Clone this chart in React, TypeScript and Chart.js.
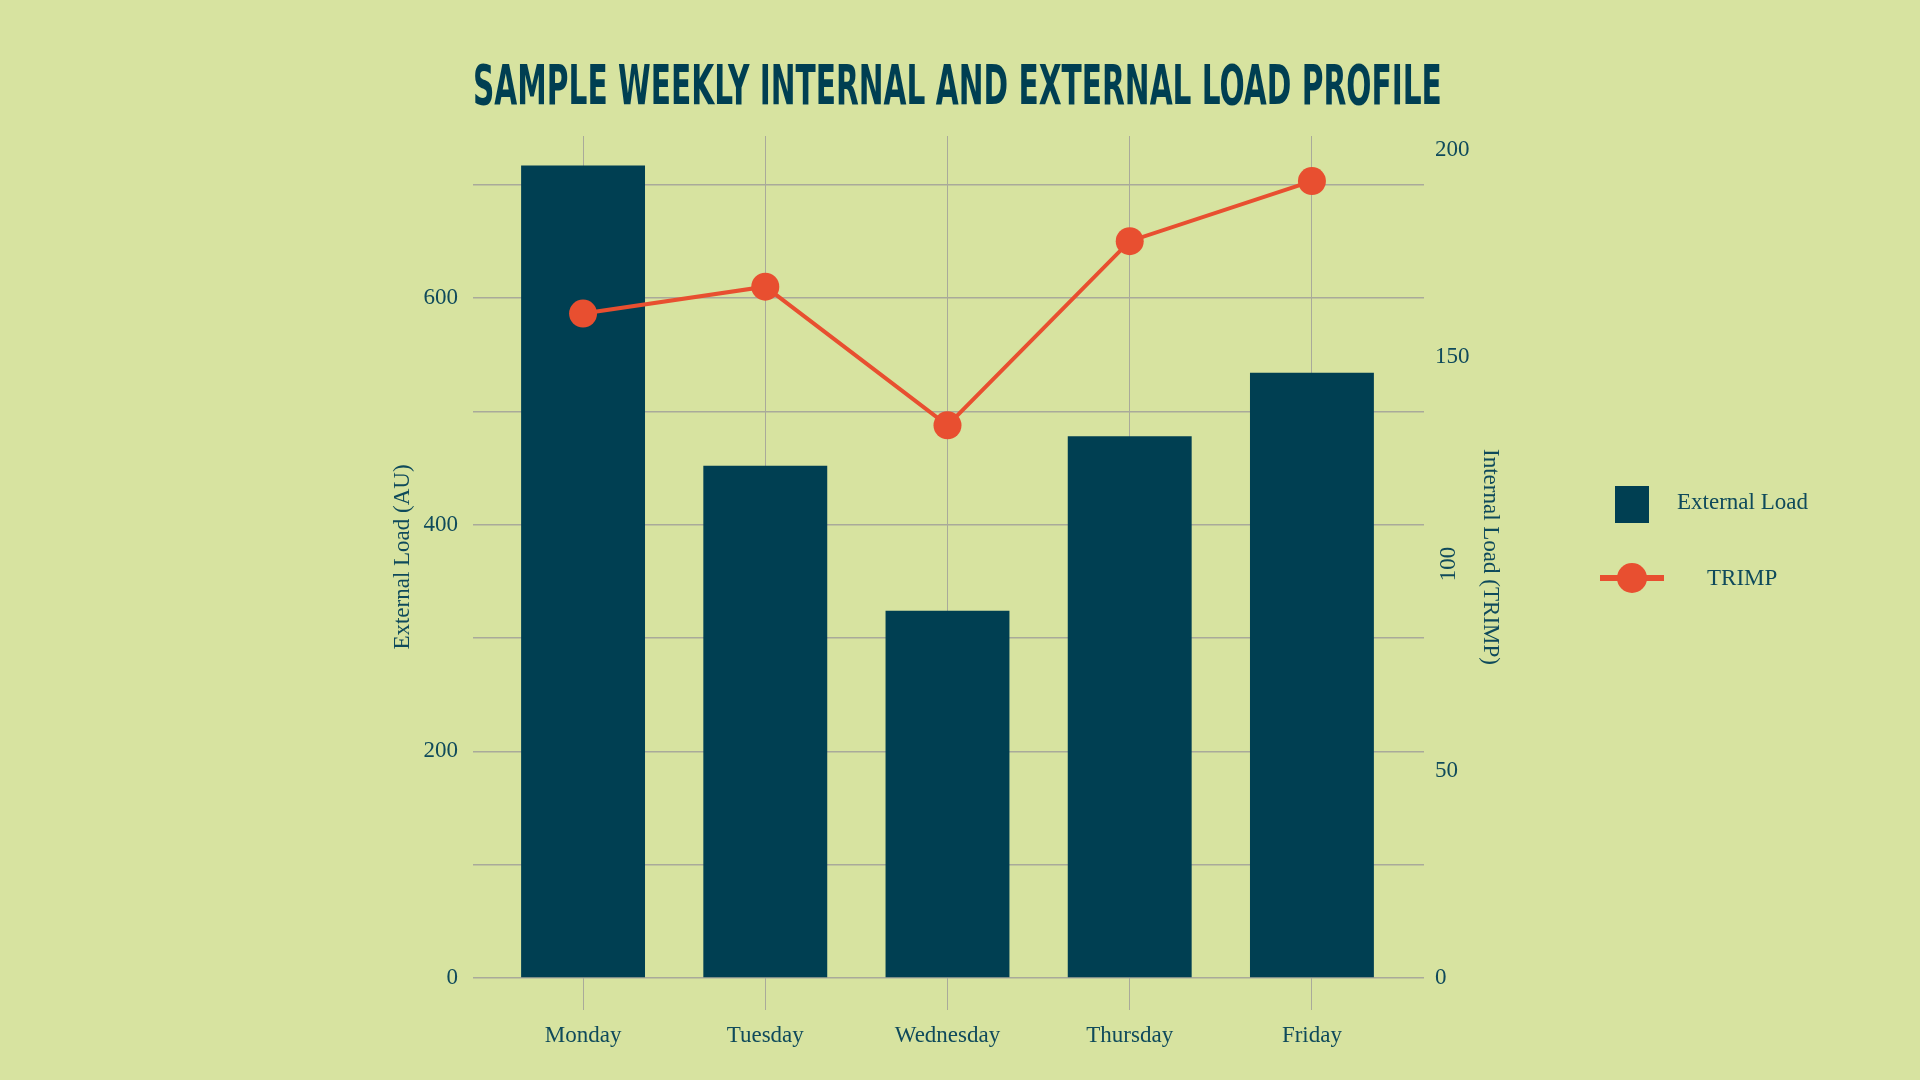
import React, { useEffect, useLayoutEffect, useRef, useState } from 'react';
import { Chart, registerables } from 'chart.js';

Chart.register(...registerables);

// data
const days = ['Monday', 'Tuesday', 'Wednesday', 'Thursday', 'Friday'];
const externalLoad = [717, 452, 324, 478, 534];
const trimp = [160.5, 167, 133.5, 178, 192.5];
const externalGrid = [0, 100, 200, 300, 400, 500, 600, 700];
const externalLabelled = [0, 200, 400, 600];
const trimpTicks = [0, 50, 100, 150, 200];
const trimpRotated = [100]; // drawn sideways in the source picture

const BG = '#D7E3A0';
const BAR = '#003F52';
const LINE = '#E84F30';
const GRID = '#A9AA9A';
const TEXT = '#0F4A5B';
const SERIF = '"Liberation Serif", "Times New Roman", serif';
const TITLE = 'SAMPLE WEEKLY INTERNAL AND EXTERNAL LOAD PROFILE';

const rotatedTicks = {
  id: 'rotatedTicks',
  afterDraw(chart: Chart) {
    const scale = chart.scales.y1;
    const { ctx } = chart;
    ctx.save();
    ctx.fillStyle = TEXT;
    ctx.font = `23px ${SERIF}`;
    ctx.textAlign = 'center';
    ctx.textBaseline = 'middle';
    trimpRotated.forEach((v) => {
      ctx.save();
      ctx.translate(scale.left + 25, scale.getPixelForValue(v));
      ctx.rotate(-Math.PI / 2);
      ctx.fillText(String(v), 0, 0);
      ctx.restore();
    });
    ctx.restore();
  },
};

function LoadChart() {
  const ref = useRef<HTMLCanvasElement>(null);
  const chartRef = useRef<Chart | null>(null);

  useEffect(() => {
    const canvas = ref.current;
    if (!canvas) return;
    chartRef.current?.destroy();

    chartRef.current = new Chart(canvas, {
      type: 'bar',
      data: {
        datasets: [
          {
            type: 'line',
            label: 'TRIMP',
            data: days.map((_, i) => ({ x: i, y: trimp[i] })),
            yAxisID: 'y1',
            borderColor: LINE,
            borderWidth: 4,
            pointRadius: 14,
            pointBackgroundColor: LINE,
            pointBorderWidth: 0,
            order: 0,
          },
          {
            type: 'bar',
            label: 'External Load',
            data: days.map((_, i) => ({ x: i, y: externalLoad[i] })),
            yAxisID: 'y',
            backgroundColor: BAR,
            borderWidth: 0,
            barPercentage: 0.68,
            categoryPercentage: 1,
            order: 1,
          },
        ] as any,
      },
      options: {
        responsive: false,
        animation: false,
        layout: { padding: { top: 136, left: 0, right: 0, bottom: 0 } },
        font: { family: SERIF },
        plugins: {
          legend: { display: false },
          tooltip: { enabled: false },
        },
        scales: {
          x: {
            type: 'linear',
            min: -0.604,
            max: 4.615,
            bounds: 'data',
            offset: false,
            afterBuildTicks: (axis: any) => { axis.ticks = days.map((_, i) => ({ value: i })); },
            afterFit: (axis: any) => { axis.height = 102; },
            grid: { offset: false, color: GRID, lineWidth: 1, drawTicks: true, tickLength: 32, tickColor: GRID },
            border: { display: false },
            ticks: {
              callback: (v: any) => days[v] ?? '',
              color: TEXT,
              font: { family: SERIF, size: 23 },
              padding: 12,
              maxRotation: 0,
              autoSkip: false,
            },
          },
          y: {
            position: 'left',
            min: 0,
            max: 743,
            bounds: 'data',
            afterBuildTicks: (axis: any) => { axis.ticks = externalGrid.map((value) => ({ value })); },
            afterFit: (axis: any) => { axis.width = 473; },
            grid: { color: GRID, lineWidth: 1.5, drawTicks: false },
            border: { display: false },
            ticks: {
              callback: (v: any) => (externalLabelled.includes(v) ? String(v) : ''),
              color: TEXT,
              font: { family: SERIF, size: 23 },
              padding: 15,
            },
            title: {
              display: true,
              text: 'External Load (AU)',
              color: TEXT,
              font: { family: SERIF, size: 23 },
              padding: { top: 389, bottom: 0 },
            },
          },
          y1: {
            position: 'right',
            min: 0,
            max: 203.4,
            bounds: 'data',
            afterBuildTicks: (axis: any) => { axis.ticks = trimpTicks.map((value) => ({ value })); },
            afterFit: (axis: any) => { axis.width = 496; },
            grid: { display: false, drawTicks: false },
            border: { display: false },
            ticks: {
              callback: (v: any) => String(v),
              color: (c: any) => (trimpRotated.includes(c.tick?.value) ? 'transparent' : TEXT),
              font: { family: SERIF, size: 23 },
              padding: 11,
            },
            title: {
              display: true,
              text: 'Internal Load (TRIMP)',
              color: TEXT,
              font: { family: SERIF, size: 23 },
              padding: { top: 416, bottom: 0 },
            },
          },
        },
      } as any,
      plugins: [rotatedTicks],
    });

    return () => { chartRef.current?.destroy(); };
  }, []);

  return <canvas ref={ref} width={1920} height={1080} style={{ position: 'absolute', left: 0, top: 0, display: 'block' }} />;
}

function Title() {
  const ref = useRef<HTMLSpanElement>(null);
  const [k, setK] = useState(1);
  useLayoutEffect(() => {
    const w = ref.current?.offsetWidth;
    if (w) setK(969 / w);
  }, []);
  return (
    <span
      ref={ref}
      style={{
        position: 'absolute', left: 473, top: 57,
        fontFamily: '"DejaVu Sans Condensed", "DejaVu Sans", sans-serif',
        fontStretch: 'condensed', fontWeight: 700, fontSize: 56, lineHeight: '56px',
        color: BAR, whiteSpace: 'nowrap', transformOrigin: '0 0', transform: `scaleX(${k})`,
      }}
    >
      {TITLE}
    </span>
  );
}

function Legend() {
  const label: React.CSSProperties = {
    position: 'absolute', fontFamily: SERIF, fontSize: 23, lineHeight: '28px', color: TEXT, whiteSpace: 'nowrap',
  };
  return (
    <>
      <div style={{ position: 'absolute', left: 1615, top: 486, width: 34, height: 37, background: BAR }} />
      <div style={{ ...label, left: 1677, top: 488 }}>External Load</div>
      <div style={{ position: 'absolute', left: 1600, top: 575, width: 64, height: 6, background: LINE }} />
      <div style={{ position: 'absolute', left: 1617, top: 563, width: 30, height: 30, borderRadius: '50%', background: LINE }} />
      <div style={{ ...label, left: 1707, top: 564 }}>TRIMP</div>
    </>
  );
}

export default function App() {
  return (
    <div style={{ position: 'fixed', left: 0, top: 0, width: 1920, height: 1080, background: BG, overflow: 'hidden' }}>
      <LoadChart />
      <Title />
      <Legend />
    </div>
  );
}
